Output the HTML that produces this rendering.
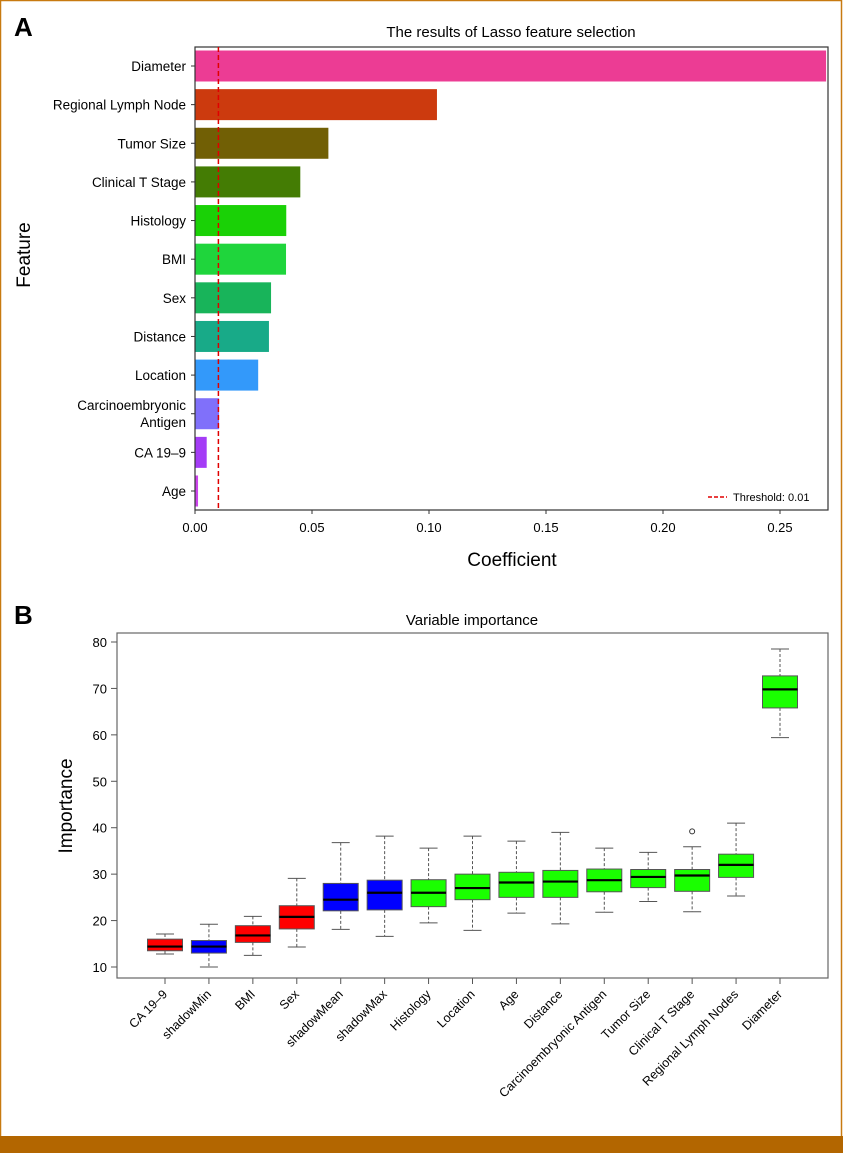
<!DOCTYPE html>
<html><head><meta charset="utf-8"><style>
body{margin:0;background:#fff;}
svg{display:block;font-family:"Liberation Sans",sans-serif;}
</style></head><body>
<svg id="fig" width="843" height="1153" viewBox="0 0 843 1153">
<rect x="0.5" y="0.5" width="841" height="1150" fill="#fff" stroke="#c87a10" stroke-width="1.5"/>
<rect x="0" y="1136" width="843" height="17" fill="#b36600"/>
<text x="14" y="36" font-size="26" font-weight="bold">A</text>
<text x="511" y="37" font-size="15" text-anchor="middle">The results of Lasso feature selection</text>
<g id="pa"></g>
<text x="30" y="255" font-size="19" text-anchor="middle" transform="rotate(-90 30 255)">Feature</text>
<text x="512" y="566" font-size="19" text-anchor="middle">Coefficient</text>
<text x="14" y="624" font-size="26" font-weight="bold">B</text>
<text x="472" y="625" font-size="15" text-anchor="middle">Variable importance</text>
<g id="pb"></g>
<text x="72" y="806" font-size="19" text-anchor="middle" transform="rotate(-90 72 806)">Importance</text>
</svg>
<script>
const NS="http://www.w3.org/2000/svg";
const lassoFeatures=["Diameter","Regional Lymph Node","Tumor Size","Clinical T Stage","Histology","BMI","Sex","Distance","Location","Carcinoembryonic|Antigen","CA 19–9","Age"];
const lassoValues=[0.2697,0.1034,0.057,0.045,0.039,0.0389,0.0325,0.0316,0.027,0.0103,0.005,0.0013];
const lassoColors=["#ec3c94","#cc3a0e","#715f05","#447c04","#1ad106","#1fd53c","#18b45a","#18aa88","#3399fa","#8070fa","#a43cf6","#cc44ec"];
const lassoTicks=[0,0.05,0.10,0.15,0.20,0.25];
const lassoThreshold=0.01;

const impCats=["CA 19–9","shadowMin","BMI","Sex","shadowMean","shadowMax","Histology","Location","Age","Distance","Carcinoembryonic Antigen","Tumor Size","Clinical T Stage","Regional Lymph Nodes","Diameter"];
const impLow=[12.8,10,12.5,14.3,18.1,16.6,19.5,17.9,21.6,19.3,21.8,24.1,21.9,25.3,59.4];
const impQ1=[13.5,13,15.3,18.2,22.1,22.3,23,24.5,25,25,26.2,27.1,26.3,29.3,65.8];
const impMed=[14.4,14.4,16.8,20.8,24.5,26,26,27,28.2,28.4,28.7,29.4,29.7,32,69.8];
const impQ3=[16,15.7,18.9,23.2,28,28.7,28.8,30,30.4,30.8,31.1,31,31,34.3,72.7];
const impHigh=[17.1,19.2,20.9,29.1,36.8,38.2,35.6,38.2,37.1,39,35.6,34.7,35.9,41,78.5];
const impOutliers=[[12,39.2]];
const impColors=["#ff0000","#0000ff","#ff0000","#ff0000","#0000ff","#0000ff","#1aff00","#1aff00","#1aff00","#1aff00","#1aff00","#1aff00","#1aff00","#1aff00","#1aff00"];
const impTicks=[10,20,30,40,50,60,70,80];

function mk(parent,tag,attrs,text){const e=document.createElementNS(NS,tag);for(const k in attrs)e.setAttribute(k,attrs[k]);if(text!==undefined)e.textContent=text;parent.appendChild(e);return e;}

// Panel A
const pa=document.getElementById('pa');
const ax0=195,ax1=828,ay0=47,ay1=510;
const xA=v=>ax0+v*(780-195)/0.25;
const rowStep=(491-66)/(lassoFeatures.length-1);
const yA=i=>66+i*rowStep;
lassoFeatures.forEach((f,i)=>{
  const r=mk(pa,'rect',{x:xA(0),y:yA(i)-15.5,width:xA(lassoValues[i])-xA(0),height:31,fill:lassoColors[i]});
  
  
  mk(pa,'line',{x1:ax0-4,x2:ax0,y1:yA(i),y2:yA(i),stroke:'#333'});
  const parts=f.split('|');
  parts.forEach((p,j)=>{
    const t=mk(pa,'text',{x:186,y:yA(i)+5+(j-(parts.length-1)/2)*17,'font-size':13.5,'text-anchor':'end'},p);
    
    
  });
});
mk(pa,'rect',{x:ax0,y:ay0,width:ax1-ax0,height:ay1-ay0,fill:'none',stroke:'#333','stroke-width':1.2});
lassoTicks.forEach((v,i)=>{
  mk(pa,'line',{x1:xA(v),x2:xA(v),y1:ay1,y2:ay1+4,stroke:'#333'});
  const t=mk(pa,'text',{x:xA(v),y:ay1+22,'font-size':13,'text-anchor':'middle'},v.toFixed(2));
  
  
});
const thr=mk(pa,'line',{x1:xA(lassoThreshold),x2:xA(lassoThreshold),y1:ay0,y2:ay1,stroke:'#e00000','stroke-width':1.5,'stroke-dasharray':'5,3'});


mk(pa,'line',{x1:708,x2:727,y1:497,y2:497,stroke:'#e00000','stroke-width':1.5,'stroke-dasharray':'4,2'});
const lg=mk(pa,'text',{x:733,y:501,'font-size':11},'Threshold: 0.01');



// Panel B
const pb=document.getElementById('pb');
const bx0=117,bx1=828,by0=633,by1=978;
const yB=v=>967-(v-10)*(967-642)/70;
const xB=i=>165+i*(780-165)/(impCats.length-1);
impCats.forEach((c,i)=>{
  const x=xB(i),w=35;
  mk(pb,'line',{x1:x,x2:x,y1:yB(impHigh[i]),y2:yB(impQ3[i]),stroke:'#555','stroke-dasharray':'3,2'});
  mk(pb,'line',{x1:x,x2:x,y1:yB(impQ1[i]),y2:yB(impLow[i]),stroke:'#555','stroke-dasharray':'3,2'});
  mk(pb,'line',{x1:x-9,x2:x+9,y1:yB(impHigh[i]),y2:yB(impHigh[i]),stroke:'#555'});
  mk(pb,'line',{x1:x-9,x2:x+9,y1:yB(impLow[i]),y2:yB(impLow[i]),stroke:'#555'});
  const b=mk(pb,'rect',{x:x-w/2,y:yB(impQ3[i]),width:w,height:yB(impQ1[i])-yB(impQ3[i]),fill:impColors[i],stroke:'#555'});
  
  
  mk(pb,'line',{x1:x-w/2,x2:x+w/2,y1:yB(impMed[i]),y2:yB(impMed[i]),stroke:'#000','stroke-width':2.2});
  mk(pb,'line',{x1:x,x2:x,y1:by1,y2:by1+6,stroke:'#555'});
  const t=mk(pb,'text',{x:x+3,y:by1+17,'font-size':12.5,'text-anchor':'end',transform:`rotate(-45 ${x+3} ${by1+17})`},c);
  
  
});
impOutliers.forEach(o=>{
  const c=mk(pb,'circle',{cx:xB(o[0]),cy:yB(o[1]),r:2.5,fill:'none',stroke:'#333'});
  
  
});
mk(pb,'rect',{x:bx0,y:by0,width:bx1-bx0,height:by1-by0,fill:'none',stroke:'#666','stroke-width':1.2});
impTicks.forEach(v=>{
  mk(pb,'line',{x1:bx0-6,x2:bx0,y1:yB(v),y2:yB(v),stroke:'#555'});
  const t=mk(pb,'text',{x:bx0-10,y:yB(v)+5,'font-size':13,'text-anchor':'end'},v);
  
  
});
</script>
</body></html>
